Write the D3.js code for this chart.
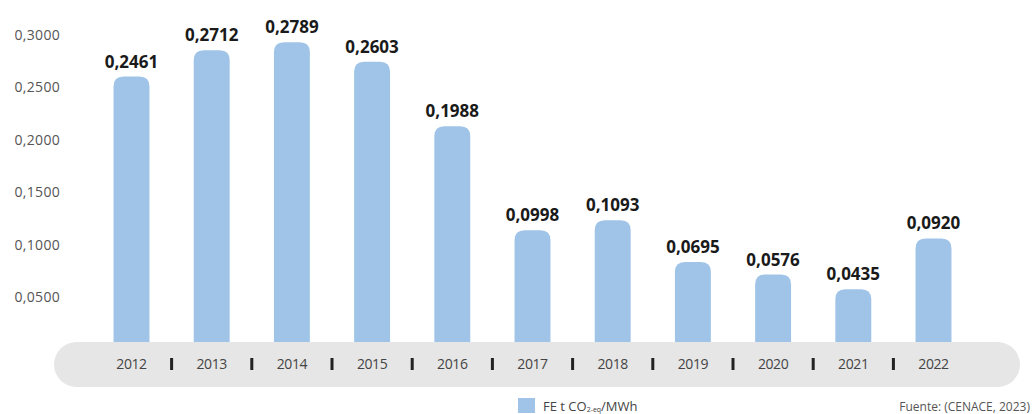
<!DOCTYPE html>
<html>
<head>
<meta charset="utf-8">
<script src="https://cdn.jsdelivr.net/npm/d3@7"></script>
<style>
  html, body { margin: 0; padding: 0; background: #ffffff; }
  svg { display: block; }
</style>
</head>
<body>
<svg id="chart" width="1032" height="414"></svg>
<script>
const years = ["2012","2013","2014","2015","2016","2017","2018","2019","2020","2021","2022"];
const values = [0.2461, 0.2712, 0.2789, 0.2603, 0.1988, 0.0998, 0.1093, 0.0695, 0.0576, 0.0435, 0.0920];
const valueLabels = ["0,2461","0,2712","0,2789","0,2603","0,1988","0,0998","0,1093","0,0695","0,0576","0,0435","0,0920"];
const yTicks = [0.05, 0.10, 0.15, 0.20, 0.25, 0.30];
const yTickLabels = ["0,0500","0,1000","0,1500","0,2000","0,2500","0,3000"];
const legendLabel = "FE t CO";
const legendSub = "2-eq";
const legendTail = "/MWh";
const sourceLabel = "Fuente: (CENACE, 2023)";

const barColor = "#9fc4e8";
const svg = d3.select("#chart");

const x = d3.scaleBand().domain(years).range([91.4, 973.6]).paddingInner(0.552).paddingOuter(0.276);
const y = d3.scaleLinear().domain([0, 0.3]).range([335, 335 - 0.3 * 1050]);
const barBottom = 352;
const r = 10;

// bars with rounded tops
svg.append("g").selectAll("path").data(values).join("path")
  .attr("fill", barColor)
  .attr("d", (d, i) => {
    const x0 = x(years[i]), w = x.bandwidth(), top = y(d);
    return `M${x0},${barBottom} L${x0},${top + r} Q${x0},${top} ${x0 + r},${top} L${x0 + w - r},${top} Q${x0 + w},${top} ${x0 + w},${top + r} L${x0 + w},${barBottom} Z`;
  });

// value labels
svg.append("g").selectAll("text").data(values).join("text")
  .attr("x", (d, i) => x(years[i]) + x.bandwidth() / 2)
  .attr("y", d => y(d) - 9)
  .attr("text-anchor", "middle")
  .attr("font-family", "'Open Sans', sans-serif")
  .attr("font-weight", 700)
  .attr("font-size", 17)
  .attr("fill", "#1a1a1a")
  .text((d, i) => valueLabels[i]);

// y axis (labels only)
const yAxis = d3.axisLeft(y).tickValues(yTicks).tickFormat((d, i) => yTickLabels[i]).tickSize(0).tickPadding(0);
const gy = svg.append("g").attr("transform", "translate(60,15)").call(yAxis);
gy.select(".domain").remove();
gy.selectAll("text")
  .attr("font-family", "'Open Sans', sans-serif")
  .attr("font-size", 14)
  .attr("letter-spacing", "0.3px")
  .attr("fill", "#555");

// gray band
svg.append("rect")
  .attr("x", 54).attr("y", 342).attr("width", 966).attr("height", 45)
  .attr("rx", 22.5).attr("ry", 22.5)
  .attr("fill", "#e6e6e6");

// x axis labels
const xAxis = d3.axisBottom(x).tickSize(0).tickPadding(0);
const gx = svg.append("g").attr("transform", "translate(0,369)").call(xAxis);
gx.select(".domain").remove();
gx.selectAll("text")
  .attr("dy", 0)
  .attr("font-family", "'Open Sans', sans-serif")
  .attr("font-size", 14)
  .attr("letter-spacing", "-0.4px")
  .attr("fill", "#444");

// separators
svg.append("g").selectAll("rect").data(years.slice(1)).join("rect")
  .attr("x", (d, i) => (x(years[i]) + x(d)) / 2 + x.bandwidth() / 2 - 1.5)
  .attr("y", 358).attr("width", 3).attr("height", 12)
  .attr("fill", "#222");

// legend
svg.append("rect").attr("x", 518).attr("y", 398).attr("width", 17).attr("height", 15).attr("fill", barColor);
const lt = svg.append("text").attr("x", 543).attr("y", 411)
  .attr("font-family", "'Open Sans', sans-serif")
  .attr("font-size", 13).attr("fill", "#444");
lt.append("tspan").text(legendLabel);
lt.append("tspan").attr("font-size", 7).attr("dy", 1).text(legendSub);
lt.append("tspan").attr("dy", -1).text(legendTail);

// source
svg.append("text").attr("x", 1030).attr("y", 411).attr("text-anchor", "end")
  .attr("font-family", "'Open Sans', sans-serif")
  .attr("font-size", 12).attr("fill", "#555")
  .text(sourceLabel);
</script>
</body>
</html>
